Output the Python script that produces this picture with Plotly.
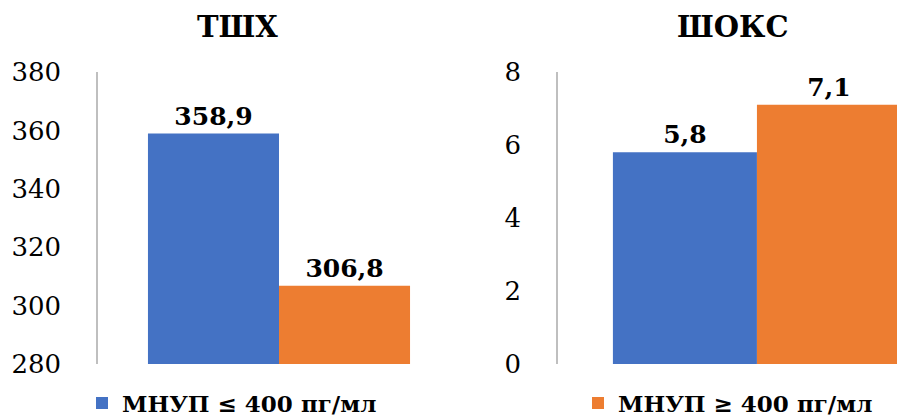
import plotly.graph_objects as go

# Chart data
panel_titles = ["ТШХ", "ШОКС"]
series_names = ["МНУП ≤ 400 пг/мл", "МНУП ≥ 400 пг/мл"]
tsh_values = [358.9, 306.8]      # ТШХ, per series
shoks_values = [5.8, 7.1]        # ШОКС, per series
tsh_ticks = [280, 300, 320, 340, 360, 380]
shoks_ticks = [0, 2, 4, 6, 8]

colors = ["#4472C4", "#ED7D31"]
FONT = "DejaVu Serif"
W, H = 897, 416


def label(v):
    return f"{v:.1f}".replace(".", ",")


fig = go.Figure()

bar_text_font = dict(family=FONT, size=25, color="#000000", weight="bold")

for i, name in enumerate(series_names):
    fig.add_trace(go.Bar(
        x=[panel_titles[0]], y=[tsh_values[i]],
        name=name, marker=dict(color=colors[i], line=dict(width=0)),
        text=[label(tsh_values[i])], textposition="outside",
        textfont=bar_text_font, constraintext="none",
        cliponaxis=False, xaxis="x", yaxis="y",
        showlegend=True, legend="legend" if i == 0 else "legend2",
    ))
for i, name in enumerate(series_names):
    fig.add_trace(go.Bar(
        x=[panel_titles[1]], y=[shoks_values[i]],
        name=name, marker=dict(color=colors[i], line=dict(width=0)),
        text=[label(shoks_values[i])], textposition="outside",
        textfont=bar_text_font, constraintext="none",
        cliponaxis=False, xaxis="x2", yaxis="y2",
        showlegend=False,
    ))

y_dom = [(H - 364) / H, (H - 72) / H]
axis_common = dict(showgrid=False, zeroline=False, showline=True,
                   linecolor="#BFBFBF", linewidth=1.5, ticks="",
                   ticklabelstandoff=30, automargin=False,
                   tickfont=dict(family=FONT, size=26, color="#000000"))
xaxis_common = dict(showticklabels=False, showgrid=False, zeroline=False,
                    showline=False, ticks="", automargin=False)
legend_font = dict(family=FONT, size=23, color="#000000", weight="bold")
title_font = dict(family=FONT, size=29, color="#000000", weight="bold")

fig.update_layout(
    width=W, height=H,
    margin=dict(l=0, r=0, t=0, b=0, autoexpand=False),
    paper_bgcolor="white", plot_bgcolor="white",
    barmode="group", bargap=0.276, bargroupgap=0,
    xaxis=dict(domain=[98 / W, 460 / W], range=[-0.5, 0.5], **xaxis_common),
    xaxis2=dict(domain=[558 / W, 1.0], range=[-0.5, 0.352], **xaxis_common),
    yaxis=dict(domain=y_dom, range=[280, 380], tickvals=tsh_ticks,
               anchor="x", **axis_common),
    yaxis2=dict(domain=y_dom, range=[0, 8], tickvals=shoks_ticks,
                anchor="x2", **axis_common),
    legend=dict(xref="container", yref="container", x=82 / W, y=(H - 403) / H,
                xanchor="left", yanchor="middle", bgcolor="rgba(0,0,0,0)",
                font=legend_font),
    legend2=dict(xref="container", yref="container", x=578 / W, y=(H - 403) / H,
                 xanchor="left", yanchor="middle", bgcolor="rgba(0,0,0,0)",
                 font=legend_font),
    annotations=[
        dict(text=panel_titles[0], x=237 / W, y=(H - 27) / H, xref="paper", yref="paper",
             xanchor="center", yanchor="middle", showarrow=False, font=title_font),
        dict(text=panel_titles[1], x=733 / W, y=(H - 27) / H, xref="paper", yref="paper",
             xanchor="center", yanchor="middle", showarrow=False, font=title_font),
    ],
)

fig.write_html("out.html")
